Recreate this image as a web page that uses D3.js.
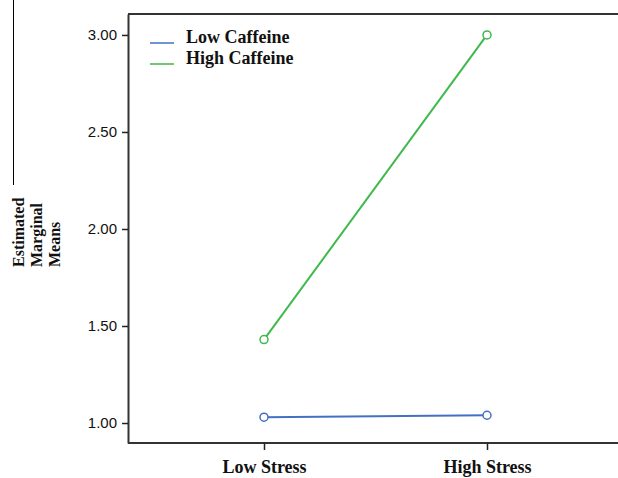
<!DOCTYPE html>
<html>
<head>
<meta charset="utf-8">
<script src="https://d3js.org/d3.v7.min.js"></script>
<style>
  body { margin: 0; background: #fff; }
</style>
</head>
<body>
<div id="chart"></div>
<script>
// data
var stressLevels = ["Low Stress", "High Stress"];
var lowCaffeine = [1.03, 1.04];
var highCaffeine = [1.43, 3.00];
var yTicks = [1.00, 1.50, 2.00, 2.50, 3.00];
var seriesNames = ["Low Caffeine", "High Caffeine"];
var seriesColors = ["#4470c4", "#3fb94b"];

var W = 618, H = 478;
var margin = { top: 14, right: 0, bottom: 35, left: 128 };

var svg = d3.select("#chart").append("svg")
    .attr("width", W)
    .attr("height", H);

var x = d3.scalePoint()
    .domain(stressLevels)
    .range([264, 487]);

var y = d3.scaleLinear()
    .domain([0.897, 3.108])
    .range([H - margin.bottom, margin.top]);

// odd stray line at left edge of the scan
svg.append("line")
    .attr("x1", 13.5).attr("x2", 13.5)
    .attr("y1", 0).attr("y2", 185)
    .style("stroke", "#000").style("stroke-width", 1);

// frame: top line
svg.append("line")
    .attr("x1", margin.left).attr("x2", W)
    .attr("y1", margin.top).attr("y2", margin.top)
    .style("stroke", "#333").style("stroke-width", 2);

// y axis
var yAxis = svg.append("g")
    .attr("transform", "translate(" + margin.left + ",0)")
    .call(d3.axisLeft(y).tickValues(yTicks).tickFormat(d3.format(".2f")).tickSize(6).tickSizeOuter(0));
yAxis.select(".domain").style("stroke", "#333").style("stroke-width", 2);
yAxis.selectAll(".tick line").style("stroke", "#222").style("stroke-width", 1.5);
yAxis.selectAll(".tick text")
    .attr("x", -11)
    .style("font-family", "Arial, 'Liberation Sans', sans-serif")
    .style("font-size", "15px")
    .style("fill", "#111");

// x axis
var xAxis = svg.append("g")
    .attr("transform", "translate(0," + (H - margin.bottom) + ")")
    .call(d3.axisBottom(x).tickSize(7).tickSizeOuter(0));
xAxis.select(".domain")
    .attr("d", "M" + margin.left + ",0H" + W)
    .style("stroke", "#333").style("stroke-width", 2);
xAxis.selectAll(".tick line").style("stroke", "#222").style("stroke-width", 1.5);
xAxis.selectAll(".tick text")
    .attr("y", 17)
    .style("font-family", "'Liberation Serif', 'Times New Roman', serif")
    .style("font-weight", "bold")
    .style("font-size", "18px")
    .style("fill", "#111");

// series lines and markers
var series = [lowCaffeine, highCaffeine];
var line = d3.line()
    .x(function (d, i) { return x(stressLevels[i]); })
    .y(function (d) { return y(d); });

series.forEach(function (vals, s) {
    svg.append("path")
        .datum(vals)
        .attr("d", line)
        .style("fill", "none")
        .style("stroke", seriesColors[s])
        .style("stroke-width", 2);

    svg.selectAll(".pt" + s)
        .data(vals)
        .enter()
        .append("circle")
        .attr("cx", function (d, i) { return x(stressLevels[i]); })
        .attr("cy", function (d) { return y(d); })
        .attr("r", 4)
        .style("fill", "#fff")
        .style("stroke", seriesColors[s])
        .style("stroke-width", 1.5);
});

// legend
var legend = svg.append("g");
seriesNames.forEach(function (name, i) {
    var ly = 37 + i * 21;
    legend.append("line")
        .attr("x1", 150).attr("x2", 174)
        .attr("y1", ly + 6).attr("y2", ly + 6)
        .style("stroke", seriesColors[i])
        .style("stroke-width", 1.5);
    legend.append("text")
        .attr("x", 186).attr("y", ly)
        .attr("dy", "0.35em")
        .text(name)
        .style("font-family", "'Liberation Serif', 'Times New Roman', serif")
        .style("font-weight", "bold")
        .style("font-size", "18px")
        .style("fill", "#111");
});

// y title, three stacked rotated lines, bottom-aligned
var titleLines = ["Estimated", "Marginal", "Means"];
var title = svg.append("text")
    .attr("transform", "translate(24,267) rotate(-90)")
    .style("font-family", "'Liberation Serif', 'Times New Roman', serif")
    .style("font-weight", "bold")
    .style("font-size", "16px")
    .style("fill", "#111")
    .attr("text-anchor", "start");
titleLines.forEach(function (t, i) {
    title.append("tspan")
        .attr("x", 0)
        .attr("dy", i === 0 ? 0 : 18)
        .text(t);
});
</script>
</body>
</html>
